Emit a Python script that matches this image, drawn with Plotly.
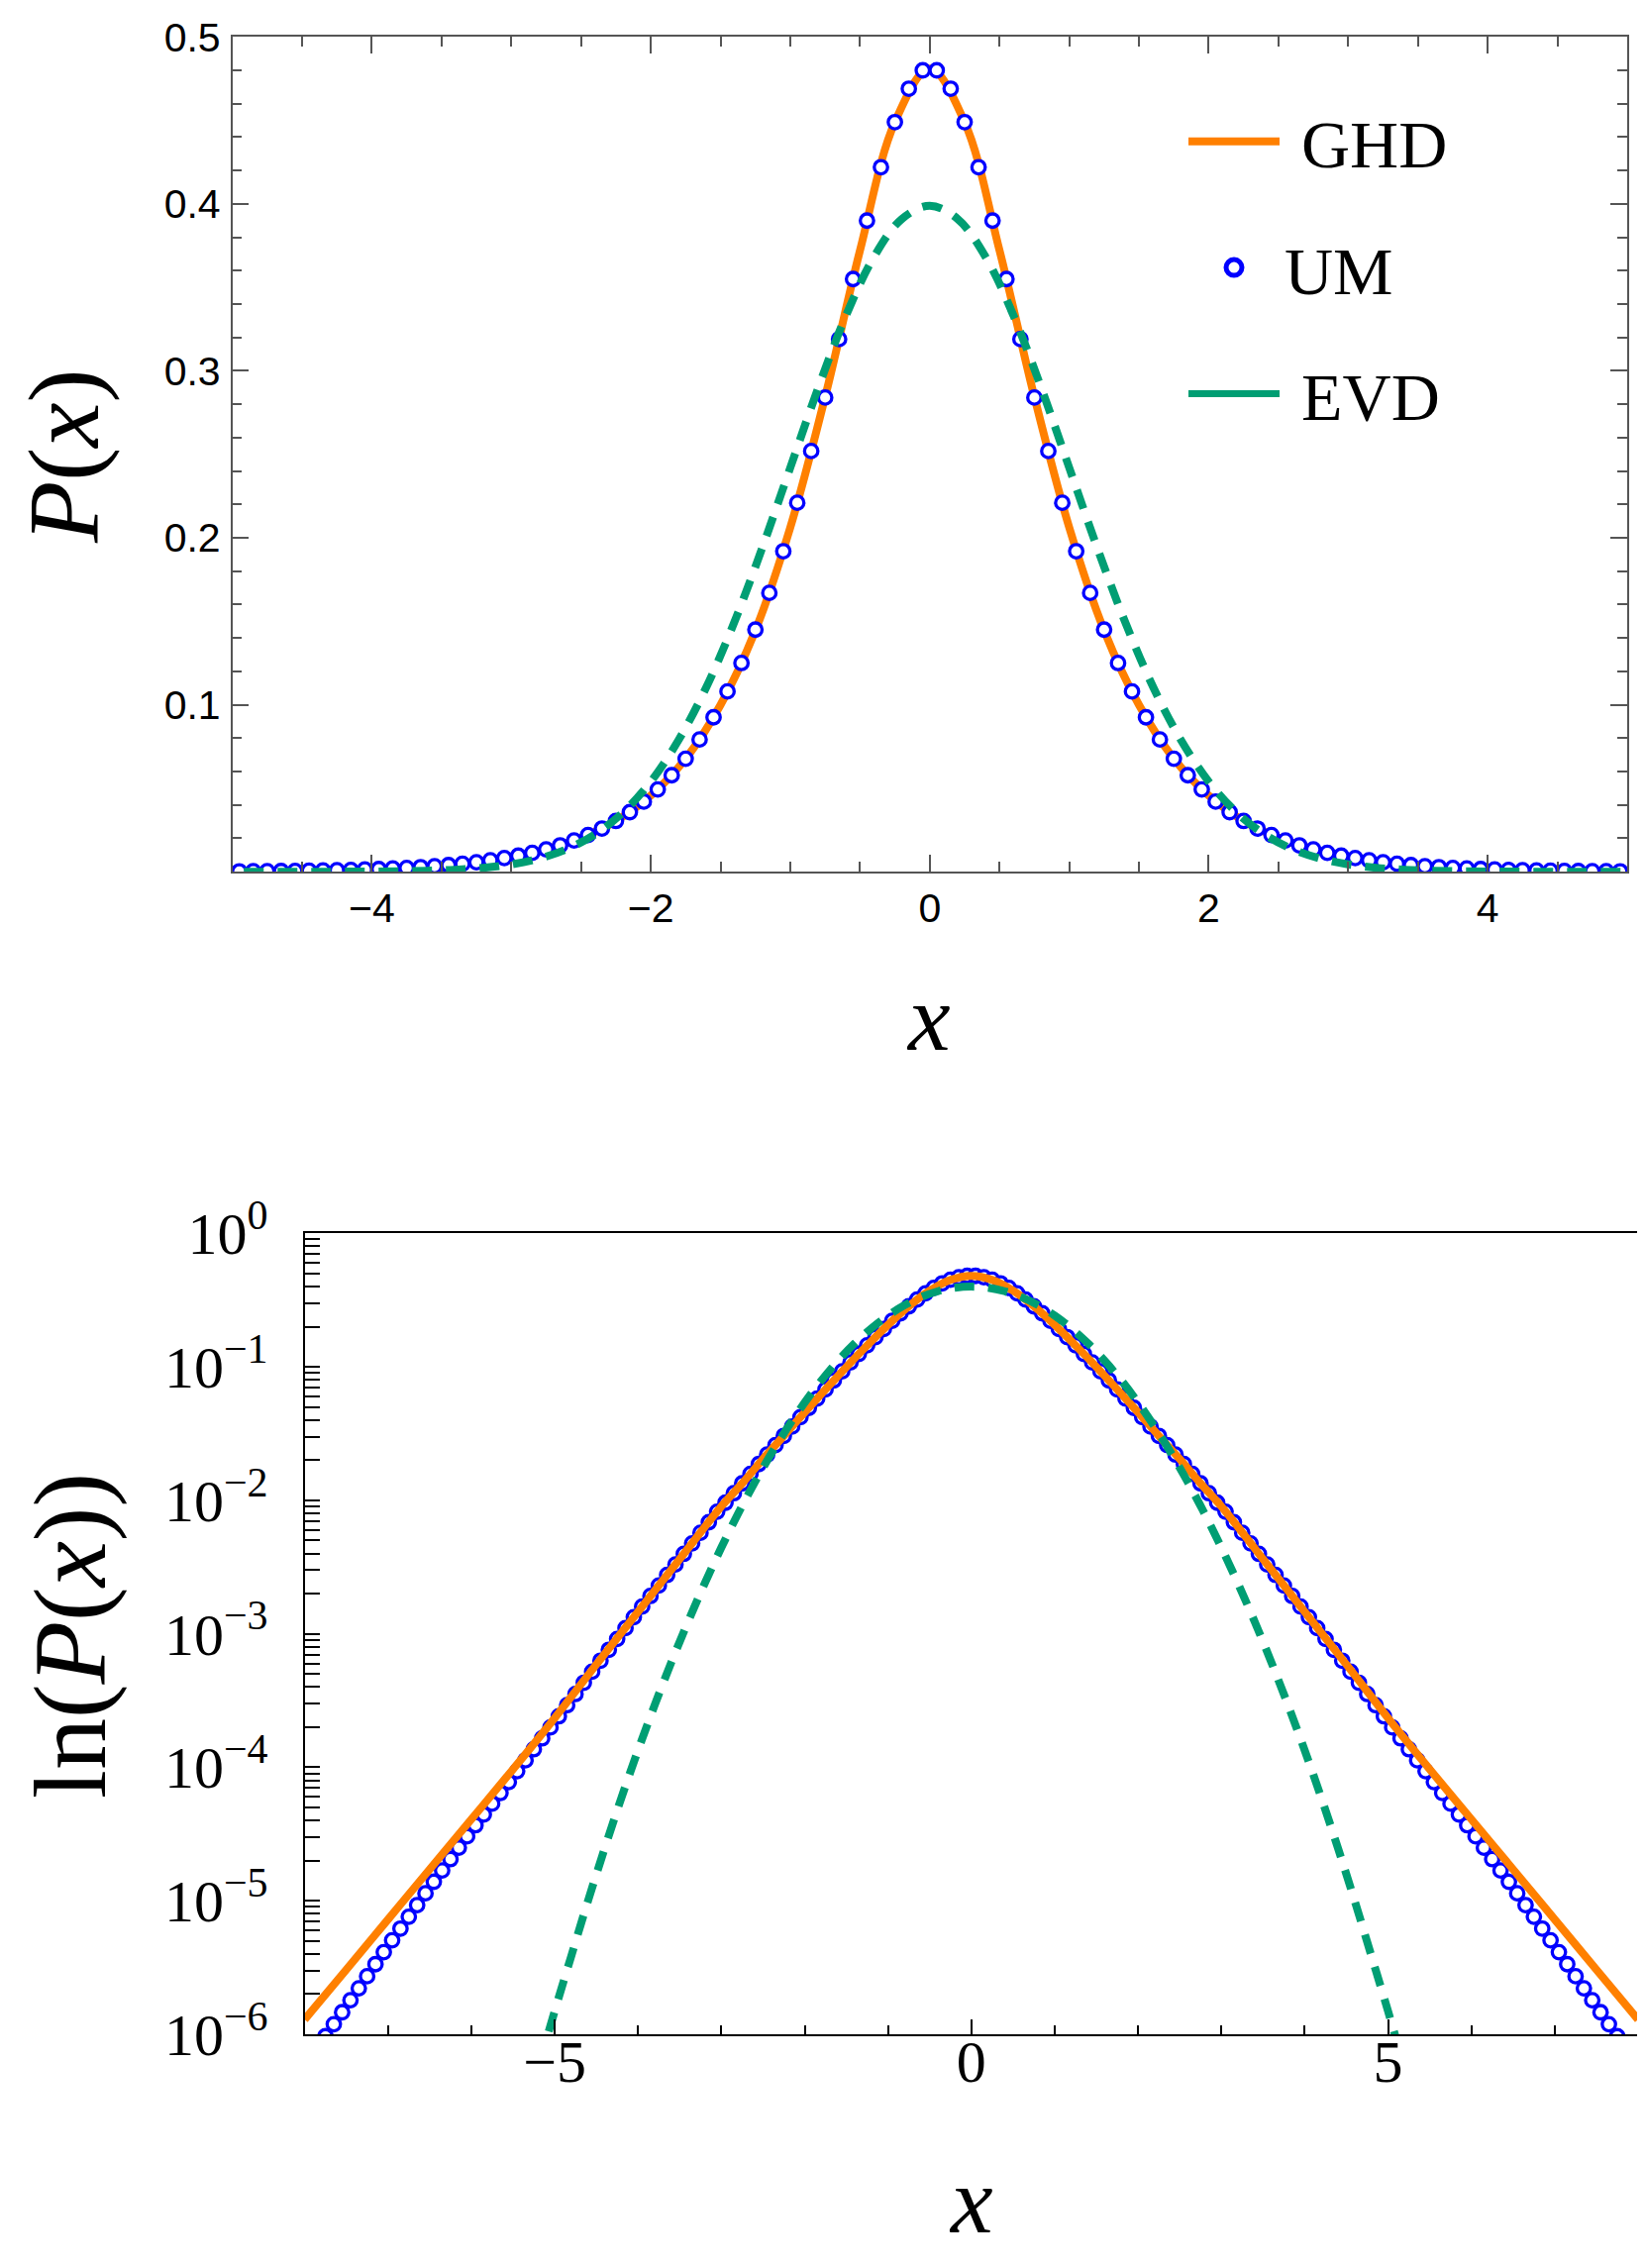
import plotly.graph_objects as go

W, H = 1661, 2290

# ---- data ----
# UM: open circles, every 0.1 starting at +/-0.05
um_x = [-7.95, -7.85, -7.75, -7.65, -7.55, -7.45, -7.35, -7.25, -7.15, -7.05,
        -6.95, -6.85, -6.75, -6.65, -6.55, -6.45, -6.35, -6.25, -6.15, -6.05,
        -5.95, -5.85, -5.75, -5.65, -5.55, -5.45, -5.35, -5.25, -5.15, -5.05,
        -4.95, -4.85, -4.75, -4.65, -4.55, -4.45, -4.35, -4.25, -4.15, -4.05,
        -3.95, -3.85, -3.75, -3.65, -3.55, -3.45, -3.35, -3.25, -3.15, -3.05,
        -2.95, -2.85, -2.75, -2.65, -2.55, -2.45, -2.35, -2.25, -2.15, -2.05,
        -1.95, -1.85, -1.75, -1.65, -1.55, -1.45, -1.35, -1.25, -1.15, -1.05,
        -0.95, -0.85, -0.75, -0.65, -0.55, -0.45, -0.35, -0.25, -0.15, -0.05,
        0.05, 0.15, 0.25, 0.35, 0.45, 0.55, 0.65, 0.75, 0.85, 0.95,
        1.05, 1.15, 1.25, 1.35, 1.45, 1.55, 1.65, 1.75, 1.85, 1.95,
        2.05, 2.15, 2.25, 2.35, 2.45, 2.55, 2.65, 2.75, 2.85, 2.95,
        3.05, 3.15, 3.25, 3.35, 3.45, 3.55, 3.65, 3.75, 3.85, 3.95,
        4.05, 4.15, 4.25, 4.35, 4.45, 4.55, 4.65, 4.75, 4.85, 4.95,
        5.05, 5.15, 5.25, 5.35, 5.45, 5.55, 5.65, 5.75, 5.85, 5.95,
        6.05, 6.15, 6.25, 6.35, 6.45, 6.55, 6.65, 6.75, 6.85, 6.95,
        7.05, 7.15, 7.25, 7.35, 7.45, 7.55, 7.65, 7.75, 7.85, 7.95]
um_p = [6.38e-7, 7.85e-7, 9.66e-7, 1.189e-6, 1.462e-6, 1.80e-6, 2.21e-6, 2.72e-6, 3.35e-6, 4.12e-6,
        5.06e-6, 6.19e-6, 7.59e-6, 9.29e-6, 1.138e-5, 1.388e-5, 1.689e-5, 2.05e-5, 2.50e-5, 3.04e-5,
        3.68e-5, 4.43e-5, 5.34e-5, 6.43e-5, 7.75e-5, 9.35e-5, 1.13e-4, 1.365e-4, 1.648e-4, 1.99e-4,
        2.41e-4, 2.92e-4, 3.54e-4, 4.30e-4, 5.20e-4, 6.29e-4, 7.59e-4, 9.15e-4, 1.103e-3, 1.332e-3,
        1.60e-3, 1.92e-3, 2.30e-3, 2.76e-3, 3.31e-3, 3.97e-3, 4.76e-3, 5.71e-3, 6.85e-3, 8.22e-3,
        0.0096, 0.0113, 0.0134, 0.0158, 0.0187, 0.0220, 0.0259, 0.0304, 0.0357, 0.0420,
        0.0493, 0.0578, 0.0677, 0.0792, 0.0925, 0.108, 0.125, 0.145, 0.167, 0.192,
        0.221, 0.252, 0.284, 0.319, 0.355, 0.390, 0.422, 0.449, 0.469, 0.480,
        0.480, 0.469, 0.449, 0.422, 0.390, 0.355, 0.319, 0.284, 0.252, 0.221,
        0.192, 0.167, 0.145, 0.125, 0.108, 0.0925, 0.0792, 0.0677, 0.0578, 0.0493,
        0.0420, 0.0357, 0.0304, 0.0259, 0.0220, 0.0187, 0.0158, 0.0134, 0.0113, 0.0096,
        8.22e-3, 6.85e-3, 5.71e-3, 4.76e-3, 3.97e-3, 3.31e-3, 2.76e-3, 2.30e-3, 1.92e-3, 1.60e-3,
        1.332e-3, 1.103e-3, 9.15e-4, 7.59e-4, 6.29e-4, 5.20e-4, 4.30e-4, 3.54e-4, 2.92e-4, 2.41e-4,
        1.99e-4, 1.648e-4, 1.365e-4, 1.13e-4, 9.35e-5, 7.75e-5, 6.43e-5, 5.34e-5, 4.43e-5, 3.68e-5,
        3.04e-5, 2.50e-5, 2.05e-5, 1.689e-5, 1.388e-5, 1.138e-5, 9.29e-6, 7.59e-6, 6.19e-6, 5.06e-6,
        4.12e-6, 3.35e-6, 2.72e-6, 2.21e-6, 1.80e-6, 1.462e-6, 1.189e-6, 9.66e-7, 7.85e-7, 6.38e-7]

# GHD: solid orange curve
ghd_x = [-8, -7.5, -7, -6.5, -6, -5.5, -5, -4.5, -4, -3.5, -3, -2.75, -2.5, -2.25, -2,
         -1.75, -1.5, -1.25, -1, -0.75, -0.5, -0.25, 0, 0.25, 0.5, 0.75, 1, 1.25, 1.5,
         1.75, 2, 2.25, 2.5, 2.75, 3, 3.5, 4, 4.5, 5, 5.5, 6, 6.5, 7, 7.5, 8]
ghd_p = [1.29e-6, 3.05e-6, 7.24e-6, 1.72e-5, 4.07e-5, 9.66e-5, 2.34e-4, 5.89e-4, 1.46e-3,
         3.63e-3, 9.0e-3, 0.0134, 0.0204, 0.0304, 0.0456, 0.0677, 0.0999, 0.1446, 0.2062,
         0.2844, 0.3722, 0.449, 0.481, 0.449, 0.3722, 0.2844, 0.2062, 0.1446, 0.0999,
         0.0677, 0.0456, 0.0304, 0.0204, 0.0134, 9.0e-3, 3.63e-3, 1.46e-3, 5.89e-4,
         2.34e-4, 9.66e-5, 4.07e-5, 1.72e-5, 7.24e-6, 3.05e-6, 1.29e-6]

# EVD: dashed green curve
evd_x = [-5.4, -5.2, -5.0, -4.8, -4.6, -4.4, -4.2, -4.0, -3.8, -3.6, -3.4, -3.2, -3.0, -2.8,
         -2.6, -2.4, -2.2, -2.0, -1.8, -1.6, -1.4, -1.2, -1.0, -0.8, -0.6, -0.4, -0.2, 0.0,
         0.2, 0.4, 0.6, 0.8, 1.0, 1.2, 1.4, 1.6, 1.8, 2.0, 2.2, 2.4, 2.6, 2.8, 3.0, 3.2, 3.4,
         3.6, 3.8, 4.0, 4.2, 4.4, 4.6, 4.8, 5.0, 5.2, 5.4]
evd_p = [1.96e-7, 5.52e-7, 1.49e-6, 3.87e-6, 9.98e-6, 2.47e-5, 5.89e-5, 1.34e-4, 2.92e-4,
         6.12e-4, 1.23e-3, 2.38e-3, 4.43e-3, 7.92e-3, 0.0136, 0.0224, 0.0355, 0.0540, 0.0790,
         0.1109, 0.1497, 0.1942, 0.2420, 0.2897, 0.3332, 0.3683, 0.3910, 0.3989,
         0.3910, 0.3683, 0.3332, 0.2897, 0.2420, 0.1942, 0.1497, 0.1109, 0.0790, 0.0540,
         0.0355, 0.0224, 0.0136, 7.92e-3, 4.43e-3, 2.38e-3, 1.23e-3, 6.12e-4, 2.92e-4,
         1.34e-4, 5.89e-5, 2.47e-5, 9.98e-6, 3.87e-6, 1.49e-6, 5.52e-7, 1.96e-7]

top_yticks = [0.1, 0.2, 0.3, 0.4, 0.5]
log_yticks = [1e-6, 1e-5, 1e-4, 1e-3, 1e-2, 1e-1, 1]
log_ylabels = ["10<sup>\u22126</sup>", "10<sup>\u22125</sup>", "10<sup>\u22124</sup>",
               "10<sup>\u22123</sup>", "10<sup>\u22122</sup>", "10<sup>\u22121</sup>", "10<sup>0</sup>"]

ORANGE = "#FF8000"
BLUE = "#0000FF"
GREEN = "#009E73"
GRAY = "#555555"
SERIF = "Liberation Serif, Times New Roman, serif"
SANS = "Liberation Sans, Arial, sans-serif"


def fx(p):
    return p / W


def fy(p):
    return 1 - p / H


def ghd_trace(xa, ya, first):
    return go.Scatter(x=ghd_x, y=ghd_p, xaxis=xa, yaxis=ya, mode="lines", name="\u00a0GHD",
                      line=dict(color=ORANGE, width=8, shape="spline"),
                      showlegend=first, legendgroup="g1", legendrank=1)


def um_trace(xa, ya):
    return go.Scatter(x=um_x, y=um_p, xaxis=xa, yaxis=ya, mode="markers", name="UM",
                      marker=dict(symbol="circle", size=13.5, color="white",
                                  line=dict(color=BLUE, width=3.3)),
                      showlegend=False)


def evd_trace(xa, ya):
    return go.Scatter(x=evd_x, y=evd_p, xaxis=xa, yaxis=ya, mode="lines", name="EVD",
                      line=dict(color=GREEN, width=8, dash="20px,14px", shape="spline"),
                      showlegend=False)


fig = go.Figure()

# top panel: circles over the orange curve
fig.add_trace(ghd_trace("x", "y", True))
fig.add_trace(um_trace("x", "y"))
fig.add_trace(evd_trace("x", "y"))
# bottom panel: orange curve drawn over the circles
fig.add_trace(um_trace("x2", "y2"))
fig.add_trace(ghd_trace("x2", "y2", False))
fig.add_trace(evd_trace("x2", "y2"))

# legend entries (bigger ring, solid green like the original key)
fig.add_trace(go.Scatter(x=[None], y=[None], mode="markers", name="UM",
                         marker=dict(symbol="circle", size=24, color="white",
                                     line=dict(color=BLUE, width=8)),
                         legendgroup="g2", legendrank=2))
fig.add_trace(go.Scatter(x=[None], y=[None], mode="lines", name="\u00a0EVD",
                         line=dict(color=GREEN, width=7),
                         legendgroup="g3", legendrank=3))

top_axis = dict(showgrid=False, zeroline=False, showline=True, linecolor=GRAY, linewidth=1.5,
                ticks="inside", tickcolor=GRAY, tickwidth=1.5, ticklen=17, mirror="ticks",
                automargin=False, tickfont=dict(family=SANS, size=41, color="black"))
bot_axis = dict(showgrid=False, zeroline=False, showline=True, linecolor="black", linewidth=2,
                ticks="inside", tickcolor="black", tickwidth=2, ticklen=15, mirror=True,
                automargin=False, tickfont=dict(family=SERIF, size=60, color="black"))

fig.update_layout(
    width=W, height=H,
    margin=dict(l=0, r=0, t=0, b=0, pad=0),
    paper_bgcolor="white", plot_bgcolor="white",
    xaxis=dict(top_axis, domain=[fx(226.6), fx(1635)], range=[-5, 5], anchor="y",
               tickmode="linear", tick0=0, dtick=2, ticklabelstandoff=0,
               minor=dict(ticks="inside", ticklen=10, tickcolor=GRAY, tickwidth=1.5,
                          tick0=0, dtick=0.5)),
    yaxis=dict(top_axis, domain=[fy(872.2), fy(29.3)], range=[0, 0.5], anchor="x",
               tickmode="array", tickvals=top_yticks, ticklabelstandoff=2,
               minor=dict(ticks="inside", ticklen=10, tickcolor=GRAY, tickwidth=1.5,
                          tick0=0, dtick=0.02)),
    xaxis2=dict(bot_axis, domain=[fx(299.6), fx(1646)], range=[-8, 8], anchor="y2",
                tickmode="linear", tick0=0, dtick=5, ticklabelstandoff=-26,
                minor=dict(ticks="inside", ticklen=9, tickcolor="black", tickwidth=2,
                           tick0=0, dtick=1)),
    yaxis2=dict(bot_axis, domain=[fy(2046), fy(1237.3)], type="log", range=[-6, 0], anchor="x2",
                tickmode="array", tickvals=log_yticks, ticktext=log_ylabels,
                ticklabelstandoff=23,
                minor=dict(ticks="inside", ticklen=15, tickcolor="black", tickwidth=2, dtick="D1")),
    legend=dict(x=fx(1187), y=fy(84), xanchor="left", yanchor="top",
                font=dict(family=SERIF, size=68, color="black"),
                bgcolor="rgba(0,0,0,0)", borderwidth=0, tracegroupgap=36,
                itemwidth=92, traceorder="grouped"),
    showlegend=True,
)

# axis titles
titles = [
    ("<i>x</i>", 930, 1020, 0, 96),
    ("<i>x</i>", 972, 2213, 0, 96),
    ("<i>P</i>(<i>x</i>)", 57, 452, -90, 102),
    ("ln(<i>P</i>(<i>x</i>))", 63, 1644, -90, 104),
]
for txt, px, py, ang, size in titles:
    fig.add_annotation(text=txt, x=fx(px), y=fy(py), xref="paper", yref="paper",
                       xanchor="center", yanchor="middle", showarrow=False, textangle=ang,
                       font=dict(family=SERIF, size=size, color="black"))

fig.write_html("out.html")
